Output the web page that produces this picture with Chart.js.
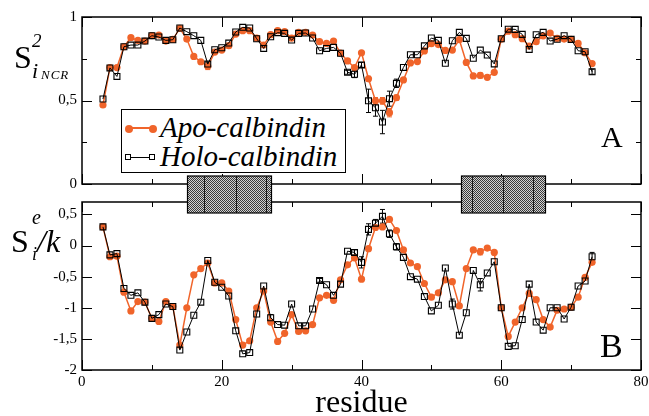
<!DOCTYPE html>
<html>
<head>
<meta charset="utf-8">
<script src="https://cdn.jsdelivr.net/npm/chart.js@4.4.0/dist/chart.umd.min.js"></script>
<style>
  body { margin: 0; background: #fff; }
  #wrap { position: relative; width: 649px; height: 416px; overflow: hidden; font-family: "Liberation Serif", "Times New Roman", serif; }
  canvas { position: absolute; left: 0; }
  .t { position: absolute; line-height: 1; white-space: nowrap; color: #000; z-index: 5; }
  .i { font-style: italic; }
  .mk { position: absolute; z-index: 6; }
</style>
</head>
<body>
<div id="wrap">
  <canvas id="top" width="649" height="200" style="top:0"></canvas>
  <canvas id="bottom" width="649" height="246" style="top:170px"></canvas>

  <!-- y titles -->
  <span class="t" style="left:14px;top:41px;font-size:32px">S</span>
  <span class="t i" style="left:32px;top:31px;font-size:19px">2</span>
  <span class="t i" style="left:32px;top:60px;font-size:22px">i</span>
  <span class="t i" style="left:41px;top:68px;font-size:13px;letter-spacing:1px">NCR</span>

  <span class="t" style="left:11px;top:225px;font-size:32px">S</span>
  <span class="t i" style="left:32px;top:207px;font-size:20px">e</span>
  <span class="t i" style="left:32px;top:245px;font-size:18px">i</span>
  <span class="t i" style="left:37px;top:225px;font-size:32px">/k</span>

  <!-- origin label of the residue axis -->
  <span class="t" style="left:78px;top:374px;font-size:15px;z-index:8">0</span>

  <span class="t" style="left:601px;top:122px;font-size:30px">A</span>
  <span class="t" style="left:600px;top:329px;font-size:34px">B</span>

  <!-- legend -->
  <div class="mk" style="left:121px;top:109px;width:225px;height:64px;border:1.5px solid #000;background:#fff;box-sizing:border-box"></div>
  <div class="mk" style="left:128px;top:127px;width:24px;height:1.5px;background:#f0642a"></div>
  <div class="mk" style="left:124.5px;top:124.5px;width:8px;height:8px;border-radius:50%;background:#f0642a"></div>
  <div class="mk" style="left:148.5px;top:124.5px;width:8px;height:8px;border-radius:50%;background:#f0642a"></div>
  <div class="mk" style="left:128px;top:156.5px;width:24px;height:1px;background:#000"></div>
  <div class="mk" style="left:125px;top:154px;width:6px;height:6px;border:1px solid #000;background:#fff;box-sizing:border-box"></div>
  <div class="mk" style="left:149px;top:154px;width:6px;height:6px;border:1px solid #000;background:#fff;box-sizing:border-box"></div>
  <span class="t i" style="left:160px;top:113px;font-size:29px;z-index:7">Apo-calbindin</span>
  <span class="t i" style="left:160px;top:142px;font-size:29px;z-index:7">Holo-calbindin</span>
</div>

<script>
const residues = [3, 4, 5, 6, 7, 8, 9, 10, 11, 12, 13, 14, 15, 16, 17, 18, 19, 20, 21, 22,
  23, 24, 25, 26, 27, 28, 29, 30, 31, 32, 33, 34, 35, 36, 37, 38, 39, 40, 41, 42,
  43, 44, 45, 46, 47, 48, 49, 50, 51, 52, 53, 54, 55, 56, 57, 58, 59, 60, 61, 62,
  63, 64, 65, 66, 67, 68, 69, 70, 71, 72, 73];

// panel A : S2 (NCR)
const apoS2 = [0.473, 0.697, 0.697, 0.822, 0.876, 0.860, 0.856, 0.888, 0.892, 0.856,
  0.866, 0.932, 0.868, 0.764, 0.732, 0.705, 0.790, 0.802, 0.828, 0.898,
  0.918, 0.918, 0.874, 0.832, 0.894, 0.918, 0.912, 0.874, 0.908, 0.908,
  0.892, 0.852, 0.842, 0.856, 0.784, 0.737, 0.697, 0.786, 0.630, 0.498,
  0.498, 0.427, 0.517, 0.623, 0.725, 0.733, 0.797, 0.840, 0.835, 0.800,
  0.802, 0.864, 0.728, 0.647, 0.650, 0.639, 0.669, 0.867, 0.915, 0.894,
  0.870, 0.826, 0.852, 0.887, 0.904, 0.872, 0.868, 0.866, 0.842, 0.786, 0.721];
const holoS2 = [0.509, 0.695, 0.644, 0.822, 0.832, 0.832, 0.856, 0.888, 0.880, 0.860,
  0.864, 0.934, 0.912, 0.888, 0.860, 0.718, 0.804, 0.816, 0.844, 0.910,
  0.938, 0.934, 0.870, 0.812, 0.882, 0.906, 0.902, 0.862, 0.902, 0.904,
  0.874, 0.798, 0.812, 0.818, 0.783, 0.669, 0.657, 0.713, 0.498, 0.456,
  0.371, 0.511, 0.603, 0.698, 0.774, 0.774, 0.827, 0.874, 0.860, 0.723,
  0.858, 0.908, 0.872, 0.753, 0.802, 0.772, 0.719, 0.870, 0.927, 0.926,
  0.896, 0.806, 0.894, 0.908, 0.856, 0.867, 0.888, 0.866, 0.798, 0.792, 0.672];

// panel B : Se/k
const apoSe = [0.30, -0.18, -0.17, -0.75, -1.05, -0.90, -0.91, -1.17, -1.22, -0.90,
  -0.98, -1.60, -1.00, -0.47, -0.37, -0.28, -0.60, -0.60, -0.73, -1.19,
  -1.60, -1.53, -1.00, -0.73, -1.23, -1.54, -1.41, -1.11, -1.38, -1.37,
  -1.27, -0.84, -0.80, -0.88, -0.55, -0.31, -0.20, -0.54, -0.05, 0.29,
  0.30, 0.42, 0.24, -0.07, -0.28, -0.34, -0.61, -0.83, -0.76, -0.55,
  -0.58, -0.97, -0.37, -0.07, -0.10, -0.04, -0.11, -1.00, -1.46, -1.23,
  -1.00, -0.77, -0.87, -1.19, -1.31, -1.04, -1.02, -0.99, -0.83, -0.51, -0.27];
const holoSe = [0.30, -0.15, -0.13, -0.69, -0.80, -0.76, -0.91, -1.17, -1.11, -0.94,
  -0.98, -1.68, -1.39, -1.12, -0.91, -0.24, -0.59, -0.67, -0.81, -1.37,
  -1.74, -1.72, -1.10, -0.65, -1.16, -1.27, -1.28, -0.94, -1.29, -1.29,
  -1.02, -0.56, -0.63, -0.80, -0.62, -0.09, -0.11, -0.27, 0.26, 0.36,
  0.47, 0.19, -0.02, -0.19, -0.50, -0.54, -0.82, -1.05, -0.96, -0.36,
  -0.94, -1.44, -1.08, -0.40, -0.63, -0.44, -0.26, -1.00, -1.62, -1.61,
  -1.19, -0.62, -1.23, -1.36, -1.00, -1.00, -1.18, -0.99, -0.65, -0.57, -0.18];

// error bars (residue, half-width)
const apoS2ErrRes = [18, 41, 42, 43, 44, 45, 57];
const apoS2Err = [0.02, 0.015, 0.02, 0.02, 0.025, 0.015, 0.015];
const holoS2ErrRes = [18, 38, 39, 40, 41, 42, 43, 44, 45, 73];
const holoS2Err = [0.012, 0.012, 0.02, 0.015, 0.07, 0.05, 0.07, 0.045, 0.025, 0.015];
const apoSeErrRes = [43, 57];
const apoSeErr = [0.04, 0.05];
const holoSeErrRes = [27, 34, 39, 40, 41, 42, 43, 44, 45, 53, 57, 73];
const holoSeErr = [0.05, 0.03, 0.04, 0.09, 0.09, 0.06, 0.11, 0.06, 0.05, 0.08, 0.1, 0.07];

// helix boxes between the panels (residue ranges and inner dividers)
const helixStart = [15, 54.2];
const helixEnd = [27, 66.3];
const helixDividers = [[17.5, 22, 26.3], [55.8, 60.3, 64.5]];

const xTicks = [0, 10, 20, 30, 40, 50, 60, 70, 80];
const yTicksA = [0, 0.25, 0.5, 0.75, 1];
const yTicksB = [-2, -1.5, -1, -0.5, 0, 0.5];

const ORANGE = '#f0642a';
Chart.defaults.font.family = '"Liberation Serif", "Times New Roman", serif';
Chart.defaults.color = '#000';

const pts = (ys) => ys.map((v, i) => ({ x: residues[i], y: v }));
const fmt = (v) => String(v).replace('.', ',');

const axesPlugin = {
  id: 'axesFrame',
  beforeDatasetsDraw(chart, args, o) {
    const { ctx, scales: { x, y } } = chart;
    ctx.save();
    o.errors.forEach(e => {
      const ds = chart.data.datasets[e.ds];
      ctx.strokeStyle = ds.borderColor;
      ctx.lineWidth = 1;
      e.res.forEach((r, k) => {
        const p = ds.data.find(d => d.x === r);
        if (!p) return;
        const px = x.getPixelForValue(r);
        const y1 = y.getPixelForValue(p.y - e.err[k]);
        const y2 = y.getPixelForValue(p.y + e.err[k]);
        ctx.beginPath();
        ctx.moveTo(px, y1); ctx.lineTo(px, y2);
        ctx.moveTo(px - 2.5, y1); ctx.lineTo(px + 2.5, y1);
        ctx.moveTo(px - 2.5, y2); ctx.lineTo(px + 2.5, y2);
        ctx.stroke();
      });
    });
    ctx.restore();
  },
  afterDraw(chart, args, o) {
    const { ctx, chartArea: a, scales: { x, y } } = chart;
    ctx.save();
    ctx.strokeStyle = '#000';
    ctx.lineWidth = 1;
    ctx.beginPath();
    xTicks.forEach(v => {
      const px = Math.round(x.getPixelForValue(v)) + 0.5;
      const len = v % 20 === 0 ? 10 : 5;
      ctx.moveTo(px, a.top); ctx.lineTo(px, a.top + len);
      ctx.moveTo(px, a.bottom); ctx.lineTo(px, a.bottom - len);
    });
    o.yTicks.forEach(v => {
      const py = Math.round(y.getPixelForValue(v)) + 0.5;
      const len = o.isMajor(v) ? 10 : 5;
      ctx.moveTo(a.left, py); ctx.lineTo(a.left + len, py);
      ctx.moveTo(a.right, py); ctx.lineTo(a.right - len, py);
    });
    ctx.stroke();
    ctx.lineWidth = 1.5;
    ctx.strokeRect(a.left, a.top, a.right - a.left, a.bottom - a.top);

    if (o.helix) {
      const pc = document.createElement('canvas');
      pc.width = 2; pc.height = 2;
      const p = pc.getContext('2d');
      p.fillStyle = '#d2d2d2'; p.fillRect(0, 0, 2, 2);
      p.fillStyle = '#3a3a3a'; p.fillRect(0, 0, 1, 1); p.fillRect(1, 1, 1, 1);
      const pat = ctx.createPattern(pc, 'repeat');
      const t = a.top - 26, b = a.top + 11;
      helixStart.forEach((s, k) => {
        const x1 = Math.round(x.getPixelForValue(s)) + 0.5;
        const x2 = Math.round(x.getPixelForValue(helixEnd[k])) + 0.5;
        ctx.fillStyle = pat;
        ctx.fillRect(x1, t, x2 - x1, b - t);
        ctx.lineWidth = 1.2;
        ctx.strokeRect(x1, t, x2 - x1, b - t);
        ctx.lineWidth = 0.8;
        ctx.beginPath();
        helixDividers[k].forEach(d => {
          const xd = Math.round(x.getPixelForValue(d)) + 0.5;
          ctx.moveTo(xd, t); ctx.lineTo(xd, b);
        });
        ctx.stroke();
      });
    }
    ctx.restore();
  }
};

function datasets(apo, holo) {
  return [
    { label: 'Apo-calbindin', data: pts(apo), borderColor: ORANGE, backgroundColor: ORANGE,
      borderWidth: 1.5, pointRadius: 3.6, pointBorderWidth: 0, pointBackgroundColor: ORANGE,
      tension: 0, order: 2 },
    { label: 'Holo-calbindin', data: pts(holo), borderColor: '#000', backgroundColor: '#000',
      borderWidth: 1, pointStyle: 'rect', pointRadius: 4.2, pointBorderWidth: 1.1,
      pointBorderColor: '#000', pointBackgroundColor: 'rgba(255,255,255,0)', tension: 0, order: 1 }
  ];
}

const common = {
  responsive: false,
  animation: false,
  events: [],
  plugins: { legend: { display: false }, tooltip: { enabled: false } }
};

new Chart(document.getElementById('top'), {
  type: 'line',
  data: { datasets: datasets(apoS2, holoS2) },
  plugins: [axesPlugin],
  options: {
    ...common,
    layout: { padding: { left: 0, right: 8, top: 17, bottom: 16 } },
    plugins: {
      ...common.plugins,
      axesFrame: {
        yTicks: yTicksA,
        isMajor: v => Number.isInteger(v * 2),
        errors: [{ ds: 0, res: apoS2ErrRes, err: apoS2Err }, { ds: 1, res: holoS2ErrRes, err: holoS2Err }]
      }
    },
    scales: {
      x: { type: 'linear', min: 0, max: 80, display: false },
      y: {
        min: 0, max: 1,
        grid: { display: false, drawTicks: false }, border: { display: false },
        afterFit: s => { s.width = 82; },
        ticks: { stepSize: 0.25, padding: 5, autoSkip: false, font: { size: 15 },
          callback: v => Number.isInteger(v * 2) ? fmt(v) : '' }
      }
    }
  }
});

new Chart(document.getElementById('bottom'), {
  type: 'line',
  data: { datasets: datasets(apoSe, holoSe) },
  plugins: [axesPlugin],
  options: {
    ...common,
    layout: { padding: { left: 0, right: 8, top: 32, bottom: 0 } },
    plugins: {
      ...common.plugins,
      axesFrame: {
        yTicks: yTicksB,
        isMajor: () => true,
        helix: true,
        errors: [{ ds: 0, res: apoSeErrRes, err: apoSeErr }, { ds: 1, res: holoSeErrRes, err: holoSeErr }]
      }
    },
    scales: {
      x: {
        type: 'linear', min: 0, max: 80,
        grid: { display: false, drawTicks: false }, border: { display: false },
        afterFit: s => { s.height = 46; s.paddingLeft = 0; s.paddingRight = 0; },
        ticks: { stepSize: 10, padding: 3, maxRotation: 0, autoSkip: false, font: { size: 15 },
          callback: v => (v % 20 === 0 && v !== 0) ? String(v) : '' },
        title: { display: true, text: 'residue', font: { size: 32, lineHeight: 0.75 }, padding: 0 }
      },
      y: {
        min: -2, max: 0.7,
        grid: { display: false, drawTicks: false }, border: { display: false },
        afterFit: s => { s.width = 82; },
        ticks: { stepSize: 0.5, includeBounds: false, padding: 5, autoSkip: false, font: { size: 15 },
          callback: v => fmt(v) }
      }
    }
  }
});
</script>
</body>
</html>
